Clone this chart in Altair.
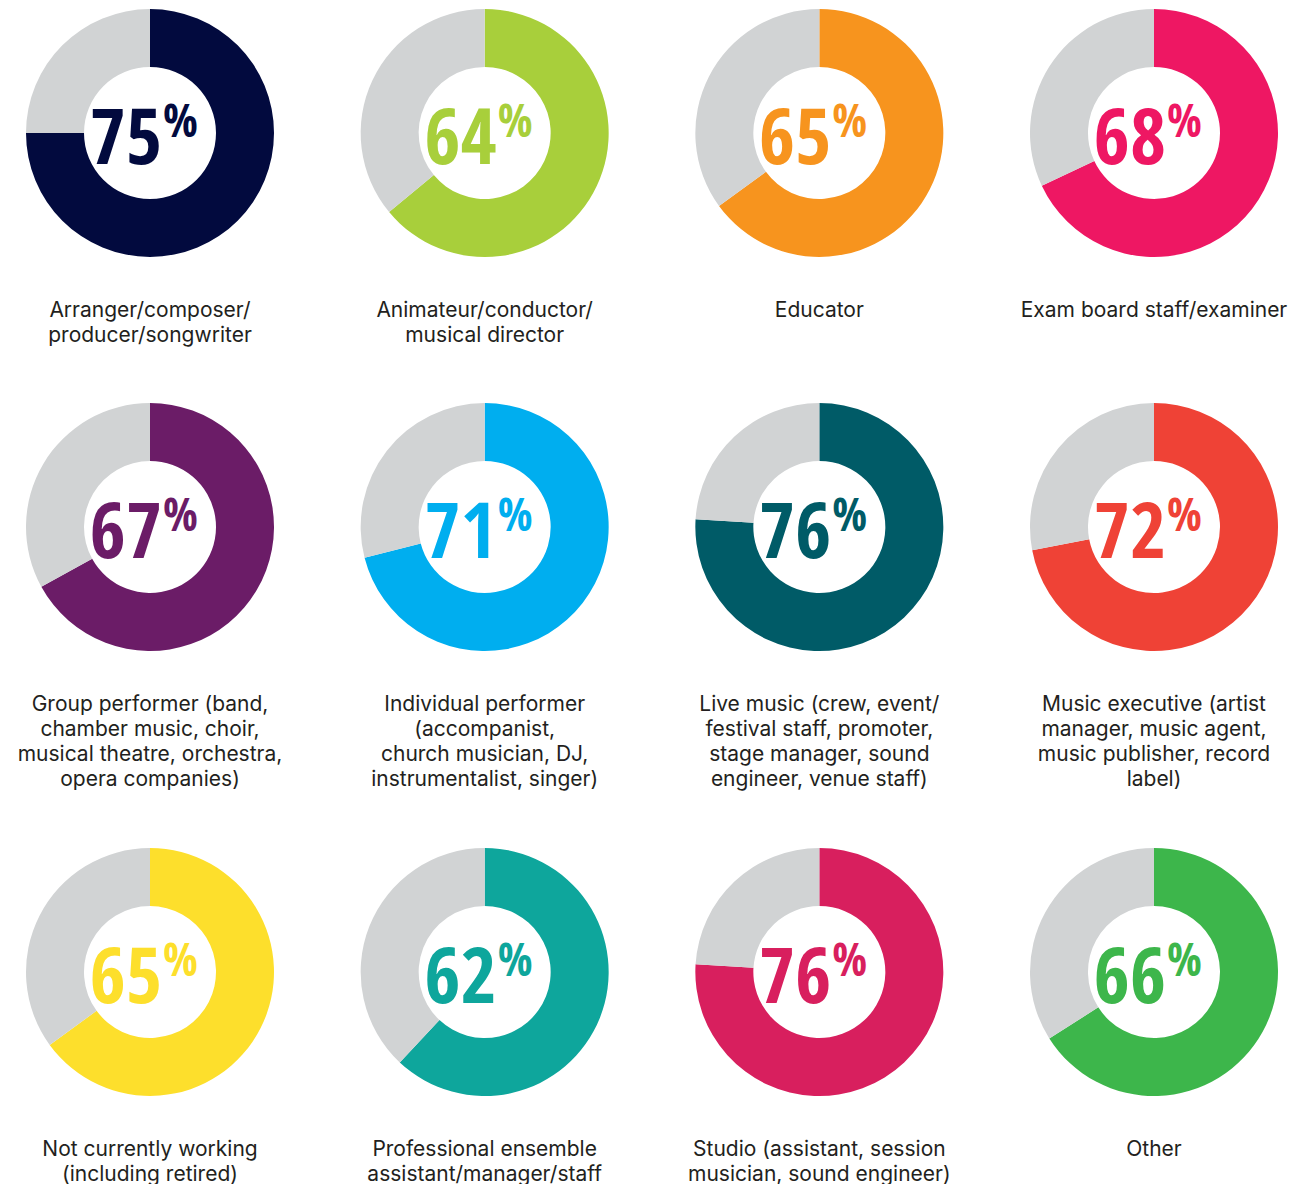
import altair as alt
import pandas as pd

categories = [
    "Arranger/composer/\nproducer/songwriter",
    "Animateur/conductor/\nmusical director",
    "Educator",
    "Exam board staff/examiner",
    "Group performer (band,\nchamber music, choir,\nmusical theatre, orchestra,\nopera companies)",
    "Individual performer\n(accompanist,\nchurch musician, DJ,\ninstrumentalist, singer)",
    "Live music (crew, event/\nfestival staff, promoter,\nstage manager, sound\nengineer, venue staff)",
    "Music executive (artist\nmanager, music agent,\nmusic publisher, record\nlabel)",
    "Not currently working\n(including retired)",
    "Professional ensemble\nassistant/manager/staff",
    "Studio (assistant, session\nmusician, sound engineer)",
    "Other",
]
percents = [75, 64, 65, 68, 67, 71, 76, 72, 65, 62, 76, 66]
colors = ["#020a3e", "#a8cf3b", "#f7941e", "#ee1763", "#6b1c67", "#00aeef",
          "#005b67", "#ef4236", "#fddf2c", "#0ea69c", "#d81f5e", "#3db64b"]
rest_color = "#d1d3d4"
row_heights = [394, 445, 329]

keys = [f"c{i}" for i in range(len(categories))]
color_domain = keys + ["rest"]
color_range = colors + [rest_color]

arc_rows, text_rows = [], []
for i, (lab, p) in enumerate(zip(categories, percents)):
    r, c = divmod(i, 4)
    arc_rows.append(dict(row=r, col=c, key=keys[i], start=0, end=p))
    arc_rows.append(dict(row=r, col=c, key="rest", start=p, end=100))
    text_rows.append(dict(row=r, col=c, key=keys[i], label=lab, num=str(p)))
arcs = pd.DataFrame(arc_rows)
texts = pd.DataFrame(text_rows)

xscale = alt.Scale(domain=[0, 3], range=[142, 1146])
cscale = alt.Scale(domain=color_domain, range=color_range)
CY = 125
NUMFONT = "Open Sans Condensed"

def row_chart(r, h):
    a = arcs[arcs.row == r]
    t = texts[texts.row == r]
    base_x = alt.X("col:Q", scale=xscale, axis=None, stack=None)
    donut = alt.Chart(a).mark_arc(outerRadius=124, innerRadius=66).encode(
        x=base_x,
        y=alt.value(CY),
        theta=alt.Theta("start:Q", scale=alt.Scale(domain=[0, 100]), stack=None),
        theta2="end:Q",
        color=alt.Color("key:N", scale=cscale, legend=None),
    )
    num = alt.Chart(t).mark_text(
        font=NUMFONT, fontWeight=800, fontSize=78,
        align="right", baseline="alphabetic", dx=12, dy=31,
    ).encode(x=base_x, y=alt.value(CY), text="num:N",
             color=alt.Color("key:N", scale=cscale, legend=None))
    pc = alt.Chart(t).mark_text(
        font=NUMFONT, fontWeight=800, fontSize=46,
        align="left", baseline="alphabetic", dx=13, dy=4, text="%",
    ).encode(x=base_x, y=alt.value(CY),
             color=alt.Color("key:N", scale=cscale, legend=None))
    lab = alt.Chart(t).mark_text(
        font="Inter", fontSize=21, align="center", baseline="top",
        lineBreak="\n", lineHeight=25, color="#231f20", dy=167,
    ).encode(x=base_x, y=alt.value(CY), text="label:N")
    return alt.layer(donut, num, pc, lab).properties(width=1300, height=h)

chart = alt.vconcat(*[row_chart(r, h) for r, h in enumerate(row_heights)], spacing=0).properties(
    padding=0
).configure(background="white").configure_view(stroke=None)

chart.save("out.html", embed_options={"renderer": "svg", "actions": False})
